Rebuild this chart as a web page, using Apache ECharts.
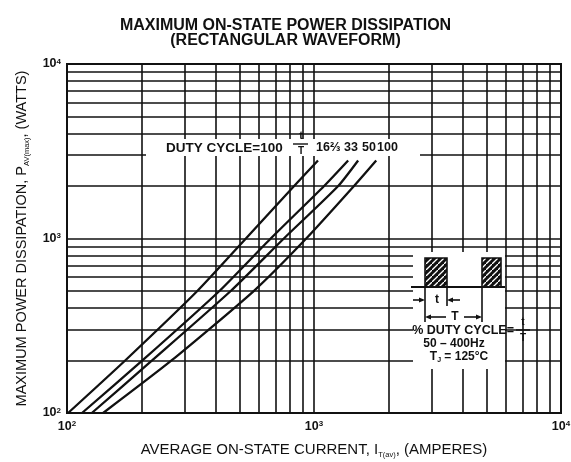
<!DOCTYPE html>
<html>
<head>
<meta charset="utf-8">
<script src="https://cdn.jsdelivr.net/npm/echarts@6/dist/echarts.min.js"></script>
<style>
  html, body { margin: 0; padding: 0; background: #fff; }
  #main { width: 571px; height: 462px; }
</style>
</head>
<body>
<div id="main"></div>
<script>
// curves: power (W) on y, average current (A) on x, one array per duty cycle
const dutyCycles = ['16⅔', '33', '50', '100'];
const powerW = [100, 200, 500, 1000, 2000, 2800];
const current16 = [101, 172, 337, 530, 831, 1038];
const current33 = [115, 202, 414, 668, 1099, 1375];
const current50 = [126, 221, 460, 755, 1253, 1509];
const current100 = [140, 265, 570, 930, 1452, 1786];
const currentSeries = [current16, current33, current50, current100];

// log grid lines (both axes use the same decades)
const gridX = [200, 300, 400, 500, 600, 700, 800, 900, 1000, 2000, 3000, 4000, 5000, 6000, 7000, 8000, 9000];
const gridY = [200, 300, 400, 500, 600, 700, 800, 900, 1000, 2000, 3000, 4000, 5000, 6000, 7000, 8000, 9000];

const FONT = '"Liberation Sans", Arial, sans-serif';
const INK = '#111';

let myChart = echarts.init(document.getElementById('main'));

function expLabel(v) {
    const e = Math.round(Math.log10(v));
    return '{b|10}{s|' + e + '}';
}
const expRich = {
    b: { fontFamily: FONT, fontSize: 12.5, fontWeight: 'bold', color: INK },
    s: { fontFamily: FONT, fontSize: 8, fontWeight: 'bold', color: INK, verticalAlign: 'top', padding: [0, 0, 5, 0] }
};

const series = currentSeries.map(function (cur, i) {
    return {
        name: dutyCycles[i],
        type: 'line',
        data: cur.map(function (c, j) { return [c, powerW[j]]; }),
        symbol: 'none',
        smooth: 0.2,
        lineStyle: { color: INK, width: 2.3 },
        z: 3
    };
});

// grid lines drawn through the axes
series.push({
    name: 'grid',
    type: 'line',
    data: [],
    silent: true,
    z: 1,
    markLine: {
        silent: true,
        symbol: 'none',
        label: { show: false },
        lineStyle: { color: INK, width: 1.6, type: 'solid' },
        data: gridX.map(function (v) { return { xAxis: v }; })
            .concat(gridY.map(function (v) { return { yAxis: v }; }))
    }
});

// hatch for the waveform pulses
const hatch = document.createElement('canvas');
hatch.width = 6; hatch.height = 6;
(function () {
    const c = hatch.getContext('2d');
    c.fillStyle = '#111';
    c.fillRect(0, 0, 6, 6);
    c.strokeStyle = '#fff';
    c.lineWidth = 1.3;
    c.beginPath();
    c.moveTo(-1, 7); c.lineTo(7, -1);
    c.stroke();
})();

const boldTxt = function (x, y, text, size, align) {
    return {
        type: 'text', x: x, y: y, z: 100,
        style: {
            text: text, fill: INK, font: 'bold ' + (size || 12) + 'px ' + FONT,
            align: align || 'left', verticalAlign: 'middle'
        }
    };
};
const seg = function (x1, y1, x2, y2, w) {
    return { type: 'line', z: 100, shape: { x1: x1, y1: y1, x2: x2, y2: y2 }, style: { stroke: INK, lineWidth: w || 1.6 } };
};
const arrowHead = function (x, y, dir) {
    return {
        type: 'polygon', z: 100,
        shape: { points: [[x, y], [x - dir * 6, y - 2.5], [x - dir * 6, y + 2.5]] },
        style: { fill: INK }
    };
};

let myChartOption = {
    backgroundColor: '#fff',
    animation: false,
    title: {
        text: 'MAXIMUM ON-STATE POWER DISSIPATION\n(RECTANGULAR WAVEFORM)',
        left: 'center',
        top: 13,
        textStyle: { fontFamily: FONT, fontSize: 16, fontWeight: 'bold', color: INK, lineHeight: 15 }
    },
    grid: {
        left: 67, right: 10, top: 64, bottom: 49,
        outerBoundsMode: 'none',
        show: true, borderColor: INK, borderWidth: 2
    },
    xAxis: {
        type: 'log', logBase: 10, min: 100, max: 10000,
        name: '{n|AVERAGE ON-STATE CURRENT, I}{s|T(av)}{n|, (AMPERES)}',
        nameLocation: 'middle', nameGap: 28,
        nameTextStyle: {
            rich: {
                n: { fontFamily: FONT, fontSize: 15, color: INK, lineHeight: 18 },
                s: { fontFamily: FONT, fontSize: 7.5, color: INK, verticalAlign: 'bottom' }
            }
        },
        axisLine: { show: true, lineStyle: { color: INK, width: 2 } },
        axisTick: { show: false },
        splitLine: { show: false },
        axisLabel: { formatter: expLabel, rich: expRich, margin: 7 }
    },
    yAxis: {
        type: 'log', logBase: 10, min: 100, max: 10000,
        name: '{n|MAXIMUM POWER DISSIPATION, P}{s|AV(max)}{n|, (WATTS)}',
        nameLocation: 'middle', nameGap: 36,
        nameTextStyle: {
            rich: {
                n: { fontFamily: FONT, fontSize: 14.5, color: INK, lineHeight: 18 },
                s: { fontFamily: FONT, fontSize: 7.5, color: INK, verticalAlign: 'bottom' }
            }
        },
        axisLine: { show: true, lineStyle: { color: INK, width: 2 } },
        axisTick: { show: false },
        splitLine: { show: false },
        axisLabel: { formatter: expLabel, rich: expRich, margin: 6 }
    },
    series: series,
    graphic: [
        // duty cycle strip
        { type: 'rect', z: 99, shape: { x: 146, y: 139, width: 274, height: 17 }, style: { fill: '#fff' } },
        boldTxt(166, 148, 'DUTY CYCLE=100', 13.5),
        boldTxt(301, 136, 't', 11, 'center'),
        seg(293, 144, 308, 144, 1.4),
        boldTxt(301, 151, 'T', 10, 'center'),
        boldTxt(316, 148, '16⅔', 12.5),
        boldTxt(344, 148, '33', 12.5),
        boldTxt(362, 148, '50', 12.5),
        boldTxt(377, 148, '100', 12.5),

        // waveform inset
        { type: 'rect', z: 99, shape: { x: 413, y: 252, width: 92, height: 117 }, style: { fill: '#fff' } },
        { type: 'rect', z: 100, shape: { x: 425, y: 258, width: 22, height: 29 },
          style: { fill: { image: hatch, repeat: 'repeat' }, stroke: INK, lineWidth: 1.6 } },
        { type: 'rect', z: 100, shape: { x: 482, y: 258, width: 19, height: 29 },
          style: { fill: { image: hatch, repeat: 'repeat' }, stroke: INK, lineWidth: 1.6 } },
        seg(411, 287, 505, 287, 2),
        seg(425, 287, 425, 322),
        seg(447, 287, 447, 306),
        seg(482, 287, 482, 322),
        seg(413, 300, 420, 300), arrowHead(425, 300, 1),
        boldTxt(437, 300, 't', 12, 'center'),
        seg(452, 300, 460, 300), arrowHead(447, 300, -1),
        seg(430, 317, 446, 317), arrowHead(425, 317, -1),
        boldTxt(455, 317, 'T', 12, 'center'),
        seg(464, 317, 477, 317), arrowHead(482, 317, 1),
        boldTxt(514, 331, '% DUTY CYCLE=', 12.5, 'right'),
        boldTxt(523, 322, 't', 10, 'center'),
        seg(516, 330, 530, 330, 1.4),
        boldTxt(523, 338, 'T', 10, 'center'),
        boldTxt(454, 344, '50 – 400Hz', 12, 'center'),
        {
            type: 'text', x: 459, y: 357, z: 100,
            style: {
                text: '{a|T}{s|J}{a| = 125°C}',
                align: 'center', verticalAlign: 'middle',
                rich: {
                    a: { font: 'bold 12px ' + FONT, fill: INK, lineHeight: 14 },
                    s: { font: 'bold 7px ' + FONT, fill: INK, verticalAlign: 'bottom' }
                }
            }
        }
    ]
};

myChart.setOption(myChartOption);
</script>
</body>
</html>
